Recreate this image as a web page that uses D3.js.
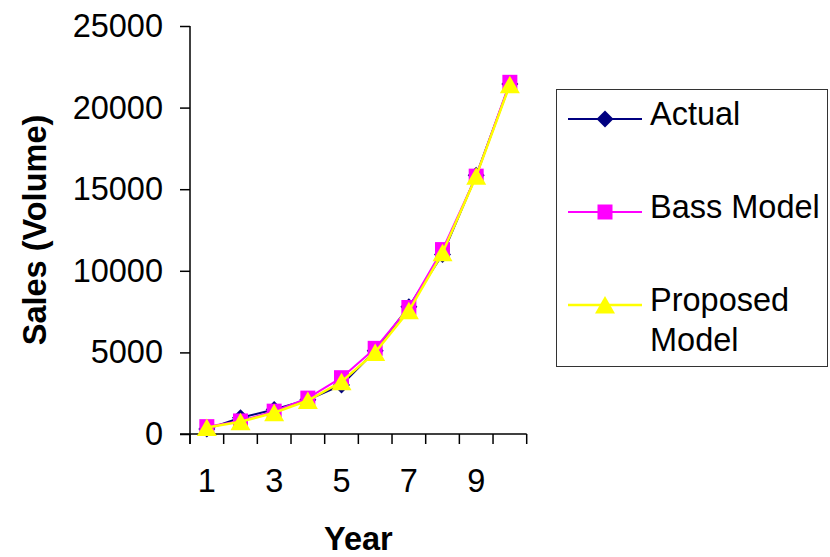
<!DOCTYPE html>
<html>
<head>
<meta charset="utf-8">
<script src="https://cdn.jsdelivr.net/npm/d3@7"></script>
<style>
  html, body { margin: 0; padding: 0; background: #fff; }
  svg { display: block; }
  text { font-family: "Liberation Sans", Arial, sans-serif; fill: #000; }
</style>
</head>
<body>
<svg id="chart" width="830" height="557"></svg>
<script>
// Sales volume by year: actual figures and two model fits
const years = [1, 2, 3, 4, 5, 6, 7, 8, 9, 10];
const actual   = [300, 1000, 1500, 2100, 3000, 5100, 7800, 11000, 15850, 21450];
const bass     = [450, 800, 1400, 2200, 3450, 5250, 7750, 11300, 15800, 21550];
const proposed = [400, 750, 1300, 2050, 3200, 5000, 7550, 11100, 15800, 21400];
const yTicks = [0, 5000, 10000, 15000, 20000, 25000];
const xLabelYears = [1, 3, 5, 7, 9];

const seriesNames = ["Actual", "Bass Model", "Proposed Model"];
const seriesValues = [actual, bass, proposed];
const seriesColors = ["#000080", "#FF00FF", "#FFFF00"];
const seriesWidths = [2, 2, 2.5];
const seriesShapes = ["diamond", "square", "triangle"];

const svg = d3.select("#chart");
const FONT = 32.5;

const x = d3.scaleBand().domain(years).range([190, 526.7]).padding(0);
const y = d3.scaleLinear().domain([0, 25000]).range([434, 26]);

function markerPath(shape) {
  if (shape === "diamond") return "M0,-8.5L8.5,0L0,8.5L-8.5,0Z";
  if (shape === "square") return "M-7.5,-7.5H7.5V7.5H-7.5Z";
  return "M0,-9L10,8.5H-10Z";
}

// Y axis
const yAxis = svg.append("g")
  .attr("transform", "translate(190,0)")
  .call(d3.axisLeft(y).tickValues(yTicks).tickSize(10).tickPadding(17).tickFormat(d3.format("d")));
yAxis.select(".domain").attr("d", `M0,${y(25000)}V${y(0) + 10}`).attr("stroke", "#000").attr("stroke-width", 1.5);
yAxis.selectAll(".tick line").attr("stroke", "#000").attr("stroke-width", 1.5);
yAxis.selectAll("text").style("font-size", FONT + "px").style("font-family", "'Liberation Sans', Arial, sans-serif").attr("fill", "#000");

// X axis: labels at category centres, tick marks at category boundaries
const xAxis = svg.append("g")
  .attr("transform", `translate(0,${y(0)})`)
  .call(d3.axisBottom(x).tickSize(0).tickPadding(35)
    .tickFormat(d => xLabelYears.includes(d) ? String(d) : ""));
xAxis.select(".domain").attr("d", `M${x(years[0]) - 10},0H${x(years[years.length - 1]) + x.bandwidth()}`)
  .attr("stroke", "#000").attr("stroke-width", 1.5);
xAxis.selectAll("text").style("font-size", FONT + "px").style("font-family", "'Liberation Sans', Arial, sans-serif").attr("fill", "#000");
const boundaries = years.map(d => x(d)).concat([x(years[years.length - 1]) + x.bandwidth()]);
xAxis.selectAll(".bound").data(boundaries).enter().append("line")
  .attr("class", "bound")
  .attr("x1", d => d).attr("x2", d => d)
  .attr("y1", 0).attr("y2", 10)
  .attr("stroke", "#000").attr("stroke-width", 1.5);

// Axis titles
svg.append("text")
  .attr("x", x(years[0]) + (x.range()[1] - x.range()[0]) / 2)
  .attr("y", 550)
  .attr("text-anchor", "middle")
  .style("font-size", FONT + "px").style("font-weight", "bold")
  .text("Year");

svg.append("text")
  .attr("transform", `translate(46,${(y(0) + y(25000)) / 2}) rotate(-90)`)
  .attr("text-anchor", "middle")
  .style("font-size", FONT + "px").style("font-weight", "bold")
  .text("Sales (Volume)");

// Series lines and markers
const cx = d => x(d) + x.bandwidth() / 2;
const line = d3.line().x(d => cx(d[0])).y(d => y(d[1]));
seriesValues.forEach((vals, i) => {
  const pts = years.map((yr, j) => [yr, vals[j]]);
  const g = svg.append("g");
  g.append("path").datum(pts)
    .attr("d", line)
    .attr("fill", "none")
    .attr("stroke", seriesColors[i])
    .attr("stroke-width", seriesWidths[i])
    .attr("stroke-linejoin", "round");
  g.selectAll("path.m").data(pts).enter().append("path")
    .attr("class", "m")
    .attr("d", markerPath(seriesShapes[i]))
    .attr("transform", d => `translate(${cx(d[0])},${y(d[1])})`)
    .attr("fill", seriesColors[i]);
});

// Legend
const legend = svg.append("g");
legend.append("rect")
  .attr("x", 556.5).attr("y", 89.5).attr("width", 271).attr("height", 277)
  .attr("fill", "#fff").attr("stroke", "#333").attr("stroke-width", 1);
const legendRows = [119, 212, 305];
seriesNames.forEach((name, i) => {
  const ly = legendRows[i];
  legend.append("line")
    .attr("x1", 568).attr("x2", 642).attr("y1", ly).attr("y2", ly)
    .attr("stroke", seriesColors[i]).attr("stroke-width", seriesWidths[i]);
  legend.append("path")
    .attr("d", markerPath(seriesShapes[i]))
    .attr("transform", `translate(605,${ly})`)
    .attr("fill", seriesColors[i]);
  const words = name === "Proposed Model" ? ["Proposed", "Model"] : [name];
  const t = legend.append("text")
    .attr("x", 650)
    .attr("y", ly + 6)
    .style("font-size", FONT + "px");
  words.forEach((w, k) => {
    t.append("tspan").attr("x", 650).attr("dy", k === 0 ? 0 : 40).text(w);
  });
});
</script>
</body>
</html>
